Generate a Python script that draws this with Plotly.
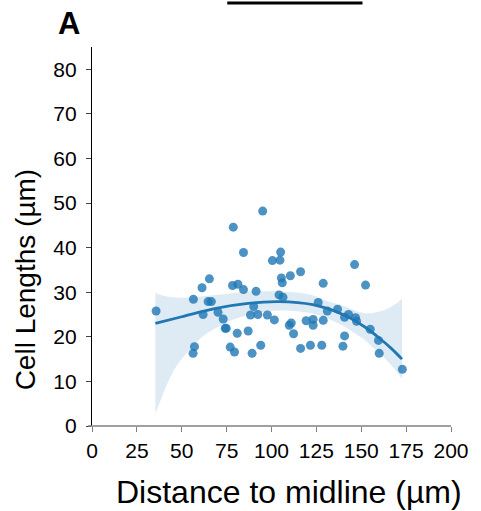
import plotly.graph_objects as go

# ---- data ----
dist = [35.7, 78.7, 95.1, 84.4, 100.5, 65.4, 61.3, 78.3, 81.3, 84.4, 91.4, 56.5, 64.7, 66.5,
        61.9, 70.2, 73.1, 90.1, 88.3, 92.4, 97.7, 101.6, 74.2, 74.8, 80.9, 87.0, 57.1, 56.3,
        77.0, 79.4, 89.2, 94.0, 105.1, 104.7, 116.2, 110.5, 105.5, 106.0, 146.3, 128.8, 152.4,
        104.2, 106.4, 126.0, 131.1, 136.8, 142.9, 140.7, 146.8, 147.4, 119.3, 123.2, 123.2,
        128.8, 109.9, 111.0, 112.3, 155.0, 159.6, 140.7, 139.8, 128.0, 121.7, 116.2, 160.0, 172.9]
length = [25.8, 44.6, 48.2, 38.9, 37.1, 33.0, 31.0, 31.5, 31.8, 30.6, 30.2, 28.4, 27.9, 27.9,
          25.0, 25.5, 24.0, 26.8, 24.9, 25.0, 24.9, 23.8, 21.9, 21.9, 20.8, 21.3, 17.8, 16.3,
          17.7, 16.6, 16.3, 18.1, 39.0, 37.2, 34.6, 33.7, 33.2, 32.1, 36.2, 32.0, 31.6,
          29.4, 28.9, 27.7, 25.8, 26.2, 25.0, 24.4, 24.3, 23.5, 23.6, 23.9, 22.6,
          23.7, 22.6, 23.1, 20.7, 21.7, 19.2, 20.2, 17.9, 18.1, 18.1, 17.4, 16.3, 12.7]

fit_x = [35.3, 50.0, 69.0, 87.0, 104.0, 123.0, 141.0, 152.0, 161.0, 167.0, 172.7]
fit_y = [23.0, 24.5, 26.4, 27.5, 27.9, 27.2, 24.8, 22.2, 19.4, 17.3, 15.0]

band_x = [35.3, 37.5, 41.2, 46.8, 54.1, 61.5, 68.9, 78.1, 87.4, 102.0, 122.4, 131.7, 141.0,
          148.3, 152.0, 156.0, 159.4, 163.0, 166.8, 170.0, 172.7]
band_lo = [2.8, 5.0, 8.8, 13.3, 17.0, 20.0, 21.9, 23.8, 24.9, 25.9, 25.3, 24.0, 22.2,
           20.3, 19.3, 17.8, 16.6, 15.2, 13.6, 12.0, 10.6]
band_hi = [29.9, 29.5, 29.1, 28.8, 28.8, 29.1, 29.4, 29.8, 30.1, 30.2, 29.4, 27.9, 26.8,
           25.6, 25.3, 25.3, 25.6, 26.0, 26.8, 27.6, 28.6]

x_ticks = [0, 25, 50, 75, 100, 125, 150, 175, 200]
y_ticks = [0, 10, 20, 30, 40, 50, 60, 70, 80]

FONT = "Arial, Liberation Sans, sans-serif"
BLUE = "#1f77b4"

W, H = 481, 511
ML, MR, MT, MB = 92, 28, 47, 85
PW, PH = W - ML - MR, H - MT - MB


def px_x(p):
    return (p - ML) / PW


def px_y(p):
    return (H - MB - p) / PH


fig = go.Figure()
fig.add_trace(go.Scatter(x=dist, y=length, mode="markers",
                         marker=dict(color=BLUE, opacity=0.8, size=9, line=dict(width=0)),
                         showlegend=False, hoverinfo="skip"))
fig.add_trace(go.Scatter(x=band_x, y=band_lo, mode="lines", line=dict(width=0, shape="spline"),
                         showlegend=False, hoverinfo="skip"))
fig.add_trace(go.Scatter(x=band_x, y=band_hi, mode="lines", line=dict(width=0, shape="spline"),
                         fill="tonexty", fillcolor="rgba(31,119,180,0.15)",
                         showlegend=False, hoverinfo="skip"))
fig.add_trace(go.Scatter(x=fit_x, y=fit_y, mode="lines",
                         line=dict(color=BLUE, width=2.8, shape="spline"),
                         showlegend=False, hoverinfo="skip"))

fig.update_layout(
    width=W, height=H,
    margin=dict(l=ML, r=MR, t=MT, b=MB, pad=0),
    paper_bgcolor="white", plot_bgcolor="white",
    font=dict(family=FONT, color="black", size=21),
    xaxis=dict(range=[0, 200], tickvals=x_ticks, ticktext=[str(v) for v in x_ticks],
               showgrid=False, zeroline=False, showline=False,
               ticks="outside", ticklen=5, tickcolor="#808080", tickwidth=1.3,
               tickfont=dict(size=21, family=FONT, color="black"), ticklabelstandoff=1),
    yaxis=dict(range=[0, 85], tickvals=y_ticks, ticktext=[str(v) for v in y_ticks],
               showgrid=False, zeroline=False, showline=True, linecolor="black", linewidth=1.3,
               ticks="outside", ticklen=5, tickcolor="#444444", tickwidth=1.3,
               tickfont=dict(size=21, family=FONT, color="black"), ticklabelstandoff=5),
    shapes=[
        dict(type="line", xref="paper", yref="paper", x0=px_x(88), x1=1, y0=0, y1=0,
             line=dict(color="#808080", width=1.5)),
        dict(type="line", xref="paper", yref="paper", x0=px_x(228), x1=px_x(364),
             y0=px_y(3), y1=px_y(3), line=dict(color="black", width=3)),
    ],
    annotations=[
        dict(text="A", xref="paper", yref="paper", x=px_x(68.5), y=px_y(23),
             xanchor="center", yanchor="middle", showarrow=False,
             font=dict(size=31, family=FONT, color="black", weight="bold")),
        dict(text="Cell Lengths (µm)", xref="paper", yref="paper", x=px_x(25), y=px_y(279),
             xanchor="center", yanchor="middle", showarrow=False, textangle=-90,
             font=dict(size=28, family=FONT, color="black")),
        dict(text="Distance to midline (µm)", xref="paper", yref="paper", x=px_x(290), y=px_y(492),
             xanchor="center", yanchor="middle", showarrow=False,
             font=dict(size=32, family=FONT, color="black")),
    ],
)

fig.write_html("out.html")
